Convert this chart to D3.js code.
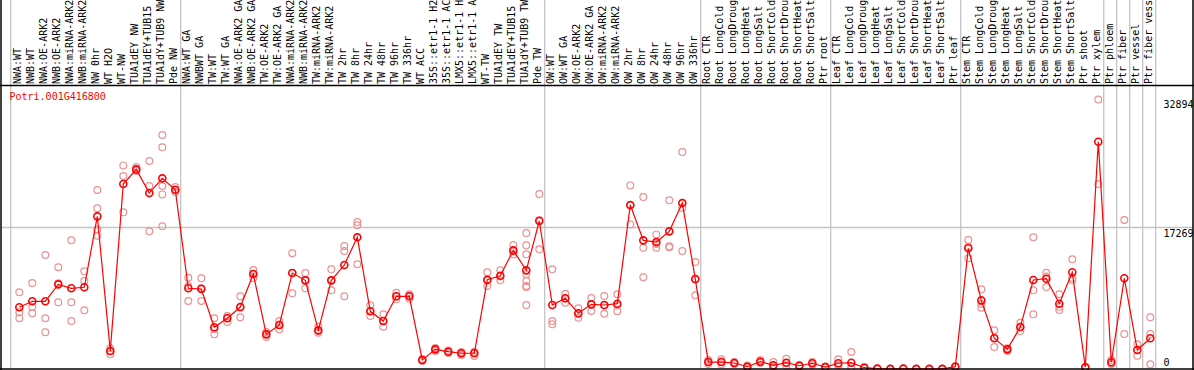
<!DOCTYPE html>
<html>
<head>
<meta charset="utf-8">
<script src="https://cdn.jsdelivr.net/npm/d3@7"></script>
<style>
  body { margin: 0; background: #fff; }
  svg { display: block; }
  text { font-family: "DejaVu Sans Mono", monospace; font-size: 10px; }
</style>
</head>
<body>
<svg id="chart" width="1194" height="370"></svg>
<script>
// sample names, in drawing order
const categories = [
  "NWA:WT", "NWB:WT", "NWA:OE-ARK2", "NWB:OE-ARK2", "NWA:miRNA-ARK2", "NWB:miRNA-ARK2",
  "NW 0hr", "WT H2O", "WT-NW", "TUA1dEY NW", "TUA1dEY+TUB15", "TUA1dY+TUB9 NW", "Pde NW",
  "NWA:WT GA", "NWBWT GA", "TW:WT", "TW:WT GA", "NWA:OE-ARK2 GA", "NWB:OE-ARK2 GA",
  "TW:OE-ARK2", "TW:OE-ARK2 GA", "NWA:miRNA-ARK2", "NWB:miRNA-ARK2", "TW:miRNA-ARK2", "TW:miRNA-ARK2",
  "TW 2hr", "TW 8hr", "TW 24hr", "TW 48hr", "TW 96hr", "TW 336hr", "WT ACC",
  "35S::etr1-1 H2O", "35S::etr1-1 ACC", "LMX5::etr1-1 H2O", "LMX5::etr1-1 ACC",
  "WT-TW", "TUA1dEY TW", "TUA1dEY+TUB15", "TUA1dY+TUB9 TW", "Pde TW",
  "OW:WT", "OW:WT GA", "OW:OE-ARK2", "OW:OE-ARK2 GA", "OW:miRNA-ARK2", "OW:miRNA-ARK2",
  "OW 2hr", "OW 8hr", "OW 24hr", "OW 48hr", "OW 96hr", "OW 336hr",
  "Root CTR", "Root LongCold", "Root LongDrought", "Root LongHeat", "Root LongSalt",
  "Root ShortCold", "Root ShortDrought", "Root ShortHeat", "Root ShortSalt", "Ptr root",
  "Leaf CTR", "Leaf LongCold", "Leaf LongDrought", "Leaf LongHeat", "Leaf LongSalt",
  "Leaf ShortCold", "Leaf ShortDrought", "Leaf ShortHeat", "Leaf ShortSalt", "Ptr leaf",
  "Stem CTR", "Stem LongCold", "Stem LongDrought", "Stem LongHeat", "Stem LongSalt",
  "Stem ShortCold", "Stem ShortDrought", "Stem ShortHeat", "Stem ShortSalt", "Ptr shoot", "Ptr xylem",
  "Ptr phloem", "Ptr fiber", "Ptr vessel", "Ptr fiber vessel"
];

// how many samples sit between two grey separators
const groupSizes = [13, 28, 12, 10, 10, 11, 1, 1, 1, 1];

const geneName = "Potri.001G416800";

// mean expression per sample (red line)
const meanValues = [
  7530, 8260, 8260, 10330, 9850, 9970, 18630, 2200, 22570, 24360, 21470, 23270, 21870,
  9850, 9760, 5090, 6190, 7560, 11590, 4230, 5370, 11710, 10820, 4720, 10820,
  12690, 16070, 7040, 5860, 8870, 8870, 1100, 2400, 2110, 1920, 1920,
  10890, 11380, 14480, 12040, 18060,
  7810, 8630, 6800, 7890, 7810, 7970, 20010, 15700, 15490, 16800, 20250, 10980,
  850, 850, 730, 280, 890, 450, 770, 400, 700, 240,
  700, 770, 160, 40, 10, 40, 10, 10, 10, 280,
  14730, 8380, 3750, 2400, 5120, 10860, 11020, 7970, 11800, 210, 27730,
  820, 11070, 2320, 3750
];

// individual replicates per sample (pale circles)
const replicateValues = [
  [9360, 6920, 6190], [10490, 7600, 6800], [13910, 6190, 4480], [12410, 10460, 8140],
  [15700, 8140, 5860], [11920, 10740, 7160], [21840, 19610, 17040, 16260], [2530, 2200, 1790],
  [24850, 23550, 19120], [24640, 24360, 24160], [25380, 22330, 16800],
  [28550, 27050, 22330, 21310, 17410], [22200, 21840, 21590],
  [11140, 10130, 8300], [11070, 9880, 8300], [6190, 4880, 4230], [6470, 6220, 5730],
  [8870, 7500, 6310], [12080, 11590, 11100], [4510, 4270, 3900], [5860, 5370, 4840],
  [14120, 11710, 9240], [11710, 10860, 9850], [5160, 4640, 4430], [12160, 10800, 9600],
  [15010, 14400, 8870], [17930, 17530, 12770], [7770, 7080, 6470], [6670, 5860, 5160],
  [9310, 8850, 8500], [9110, 8910, 8580], [1220, 1100, 980], [2560, 2440, 2200],
  [2260, 2110, 1950], [2070, 1920, 1710], [2110, 1950, 1590],
  [11800, 10800, 10130], [12040, 11290, 10820], [15130, 14340, 13990],
  [16590, 15090, 13990, 11550, 10740, 10130, 10000, 7810], [21350, 18180, 14600],
  [12160, 5860, 5450], [9190, 8600, 8090], [7410, 6710, 6260], [8660, 7930, 7080],
  [8910, 7770, 6750], [9110, 7750, 7040], [22410, 19950, 17650], [20980, 14800, 11190],
  [16430, 15250, 14800], [20580, 14970, 14850], [26470, 19680, 14400], [13050, 10920, 8990],
  [1100, 850, 610], [1180, 850, 570], [850, 730, 610], [430, 240, 180], [1100, 850, 730],
  [850, 370, 180], [1260, 730, 370], [490, 400, 310], [850, 730, 490], [310, 240, 180],
  [1180, 450, 450], [2070, 240, 40], [240, 120, 120], [60, 40, 20], [20, 10, 0],
  [60, 40, 20], [20, 10, 0], [20, 10, 0], [20, 10, 0], [370, 240, 240],
  [15740, 14920, 13510], [9720, 7930, 7480], [4720, 3780, 2680], [2530, 2400, 2200],
  [5650, 5090, 4640], [16070, 9600, 6670], [11750, 11290, 10000], [9110, 7600, 7200],
  [13380, 11100, 10860], [240, 210, 120], [32894, 22570],
  [1100, 730, 610], [18180, 4270], [3010, 1620], [6310, 4270, 570]
];

const yTickValues = [0, 17269, 32894];
const yDomainMax = 34539;

const width = 1194, height = 370;
const plotTop = 86, plotBottom = 369;

const svg = d3.select("#chart");

const x = d3.scaleLinear().domain([0, categories.length - 1]).range([19.3, 1150.3]);
const y = d3.scaleLinear().domain([0, yDomainMax]).range([plotBottom, plotTop]);

// separator positions: one before the first sample, one after each group
const groupEnds = Array.from(d3.cumsum(groupSizes), n => n - 1);
const separators = [x(0) - 8.6, ...groupEnds.map(i => x(i) + 5.4)];

svg.append("g")
  .selectAll("line")
  .data(separators)
  .join("line")
  .attr("x1", d => d).attr("x2", d => d)
  .attr("y1", 0).attr("y2", plotBottom)
  .attr("stroke", "#c4c4c4")
  .attr("stroke-width", 1.3);

// mid gridline
svg.append("line")
  .attr("x1", 1).attr("x2", width - 1)
  .attr("y1", y(yTickValues[1])).attr("y2", y(yTickValues[1]))
  .attr("stroke", "#c4c4c4")
  .attr("stroke-width", 1.3);

// replicate circles
const reps = [];
replicateValues.forEach((vals, i) => vals.forEach(v => reps.push({ i, v })));

svg.append("g")
  .selectAll("circle")
  .data(reps)
  .join("circle")
  .attr("cx", d => x(d.i))
  .attr("cy", d => y(d.v))
  .attr("r", 3.4)
  .attr("fill", "none")
  .attr("stroke", "#ee9090")
  .attr("stroke-width", 1.2);

// mean line
const line = d3.line()
  .x((d, i) => x(i))
  .y(d => y(d));

svg.append("path")
  .datum(meanValues)
  .attr("d", line)
  .attr("fill", "none")
  .attr("stroke", "#ff0000")
  .attr("stroke-width", 1.2);

svg.append("g")
  .selectAll("circle")
  .data(meanValues)
  .join("circle")
  .attr("cx", (d, i) => x(i))
  .attr("cy", d => y(d))
  .attr("r", 3.5)
  .attr("fill", "none")
  .attr("stroke", "#ff0000")
  .attr("stroke-width", 1.6);

// sample labels, rotated, cut to 14 characters
svg.append("g")
  .selectAll("text")
  .data(categories)
  .join("text")
  .attr("transform", (d, i) => `translate(${x(i) + 1.8},84) rotate(-90)`)
  .attr("fill", "#000")
  .text(d => d.slice(0, 14));

// right-hand value labels
svg.append("g")
  .selectAll("text")
  .data(yTickValues)
  .join("text")
  .attr("x", 1163.5)
  .attr("y", d => d === 0 ? y(d) - 3 : y(d) + 9)
  .attr("fill", "#000")
  .text(d => d);

svg.append("text")
  .attr("x", 9.5)
  .attr("y", 100)
  .attr("fill", "#ff0000")
  .text(geneName);

// frame
svg.append("line")
  .attr("x1", 0).attr("x2", width)
  .attr("y1", plotTop - 0.5).attr("y2", plotTop - 0.5)
  .attr("stroke", "#000").attr("stroke-width", 1.3);
svg.append("line")
  .attr("x1", 0).attr("x2", width)
  .attr("y1", plotBottom).attr("y2", plotBottom)
  .attr("stroke", "#000").attr("stroke-width", 1.5);
svg.append("line")
  .attr("x1", 1).attr("x2", 1)
  .attr("y1", 0).attr("y2", height)
  .attr("stroke", "#000").attr("stroke-width", 1.5);
svg.append("line")
  .attr("x1", width - 1).attr("x2", width - 1)
  .attr("y1", 0).attr("y2", height)
  .attr("stroke", "#000").attr("stroke-width", 1.5);
</script>
</body>
</html>
